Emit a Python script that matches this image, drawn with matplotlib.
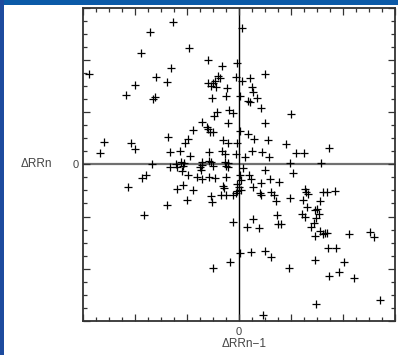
import matplotlib
matplotlib.use('Agg')
import matplotlib.pyplot as plt
from matplotlib.patches import Rectangle
from matplotlib.ticker import MultipleLocator, FuncFormatter

# Poincare-type plot: delta RR(n-1) on x, delta RR(n) on y
rr_prev_ul = [-1.70, -1.88, -2.88, -1.60, -1.99, -2.17, -1.61, -1.66, -2.59, -2.07,
              -1.99, -2.68, -1.68, -1.26, -0.96, -0.59, -1.30, -0.33, -1.38, -0.04,
              -0.40, -0.37, -0.06, -0.59, -0.49, -0.46, -0.54, -0.43, -0.22, -0.24,
              -0.52, -0.41, -0.48, -0.19, -0.12, -0.21, -0.70, -0.62, -0.59, -0.56,
              -0.49, -0.88, -1.36, -0.97, -1.04, -0.30, -0.20, -0.03, -1.33, -1.13,
              -0.93, -0.57, -0.33, -0.26, -0.05, -1.12, -1.06, -1.20, -0.70, -0.57,
              -0.53, -0.27, -0.21]
rr_curr_ul = [2.53, 2.12, 1.73, 1.67, 1.51, 1.33, 1.28, 1.24, 0.43, 0.41,
              0.29, 0.21, 0.00, 2.73, 2.22, 1.99, 1.84, 1.88, 1.57, 1.94,
              1.68, 1.65, 1.67, 1.56, 1.56, 1.60, 1.49, 1.47, 1.46, 1.31,
              1.27, 1.00, 0.93, 1.04, 0.98, 0.78, 0.81, 0.72, 0.67, 0.61,
              0.61, 0.65, 0.53, 0.48, 0.41, 0.47, 0.41, 0.41, 0.24, 0.26,
              0.16, 0.23, 0.26, 0.19, 0.19, 0.04, 0.03, 0.01, 0.04, 0.07,
              0.04, 0.04, 0.02]

rr_prev_ur = [0.07, 0.50, 0.22, 0.06, 0.25, 0.27, 0.02, 0.18, 0.21, 0.35,
              0.42, 1.00, 0.50, 0.02, 0.18, 0.29, 0.56, 0.91, 1.73, 0.25,
              0.44, 0.59, 0.13, 1.10, 1.25, 0.98, 1.59]
rr_curr_ur = [2.61, 1.73, 1.65, 1.59, 1.48, 1.39, 1.31, 1.22, 1.20, 1.27,
              1.08, 0.96, 0.78, 0.63, 0.58, 0.48, 0.46, 0.39, 0.31, 0.25,
              0.24, 0.13, 0.13, 0.21, 0.21, 0.03, 0.02]

rr_prev_ll = [-1.79, -1.86, -2.13, -1.83, -1.39, -1.33, -1.19, -1.10, -1.07, -1.08,
              -1.19, -0.88, -0.98, -0.81, -0.70, -0.74, -0.70, -0.72, -0.49, -0.57,
              -0.46, -0.24, -0.21, -0.25, -0.30, -0.28, -0.04, -0.03, -0.06, -0.99,
              -0.53, -0.51, -0.34, -0.24, -0.11, -0.12, -0.16, -0.50]
rr_curr_ll = [-0.20, -0.26, -0.44, -0.98, -0.78, -0.06, -0.06, -0.13, -0.03, -0.40,
              -0.48, -0.49, -0.20, -0.25, -0.29, -0.06, -0.02, -0.11, -0.04, -0.25,
              -0.27, -0.03, -0.06, -0.25, -0.41, -0.45, -0.38, -0.51, -0.55, -0.69,
              -0.60, -0.73, -0.58, -0.58, -0.58, -1.10, -1.88, -1.99]

rr_prev_lr = [0.09, 0.03, 0.04, 0.00, 0.04, 0.19, 0.23, 0.51, 1.05, 0.60,
              0.78, 0.42, 0.27, 0.40, 0.43, 0.63, 0.67, 0.72, 0.98, 1.27,
              1.30, 1.34, 1.23, 1.31, 1.46, 1.21, 1.28, 0.73, 0.27, 0.15,
              0.39, 0.76, 0.82, 1.40, 1.45, 1.47, 0.03, 0.23, 0.50, 0.63,
              0.97, 0.47, 1.50, 1.54, 1.57, 1.63, 1.70, 1.86, 1.57, 1.66,
              1.70, 1.62, 1.72, 1.88, 2.13, 2.53, 2.61, 1.47, 2.02, 1.73,
              1.94, 2.22, 2.73, 1.49, 1.48]
rr_curr_lr = [-0.07, -0.20, -0.31, -0.44, -0.49, -0.21, -0.28, -0.11, -0.16, -0.29,
              -0.34, -0.35, -0.44, -0.55, -0.59, -0.54, -0.59, -0.71, -0.64, -0.48,
              -0.54, -0.57, -0.69, -0.81, -0.87, -0.96, -1.01, -0.97, -1.04, -1.20,
              -1.22, -1.14, -1.14, -1.21, -1.12, -1.38, -1.70, -1.68, -1.66, -1.78,
              -1.99, -2.88, -0.86, -0.95, -0.70, -0.53, -0.53, -0.51, -1.28, -1.32,
              -1.31, -1.34, -1.60, -1.60, -1.33, -1.29, -1.40, -1.83, -1.87, -2.13,
              -2.07, -2.17, -2.59, -2.68, -1.02]

x = rr_prev_ul + rr_prev_ur + rr_prev_ll + rr_prev_lr
y = rr_curr_ul + rr_curr_ur + rr_curr_ll + rr_curr_lr

plt.rcParams['font.family'] = ['Liberation Sans', 'DejaVu Sans']

W, H = 398, 355
fig = plt.figure(figsize=(W / 100, H / 100), dpi=100)
fig.patch.set_facecolor('white')

# blue border on top and left
fig.patches.append(Rectangle((0, 1 - 5 / H), 1, 5 / H, transform=fig.transFigure,
                             facecolor='#0b5aa8', edgecolor='none', zorder=0))
fig.patches.append(Rectangle((0, 0), 4 / W, 1, transform=fig.transFigure,
                             facecolor='#1d4b9e', edgecolor='none', zorder=0))

ax = fig.add_axes([83 / W, 34 / H, 311.5 / W, 313.5 / H])
ax.set_xlim(-3, 3)
ax.set_ylim(-3, 3)

ax.axhline(0, color='#707070', lw=1.6, zorder=1)
ax.axvline(0, color='black', lw=1.0, zorder=1)
ax.plot(x, y, linestyle='none', marker='+', markersize=6, mew=0.9, color='black', zorder=2)

for s in ax.spines.values():
    s.set_color('#333333')
    s.set_linewidth(1.3)

zero_only = FuncFormatter(lambda v, p: '0' if abs(v) < 1e-9 else '')
for axis in (ax.xaxis, ax.yaxis):
    axis.set_major_locator(MultipleLocator(1))
    axis.set_minor_locator(MultipleLocator(0.25))
    axis.set_major_formatter(zero_only)

ax.tick_params(which='both', direction='in', top=True, right=True, color='#333333',
               labelsize=8, labelcolor='#444444')
ax.tick_params(which='major', length=5, width=0.9)
ax.tick_params(which='minor', length=3, width=0.9)
ax.tick_params(axis='y', pad=3)
ax.tick_params(axis='x', pad=4)

fig.text(36 / W, 1 - 164 / H, '\u0394RRn', ha='center', va='center',
         fontsize=8.5, color='#444444')
fig.text(244 / W, 1 - 344 / H, '\u0394RRn\u22121', ha='center', va='center',
         fontsize=8.5, color='#444444')

fig.savefig('out.png', dpi=100)
